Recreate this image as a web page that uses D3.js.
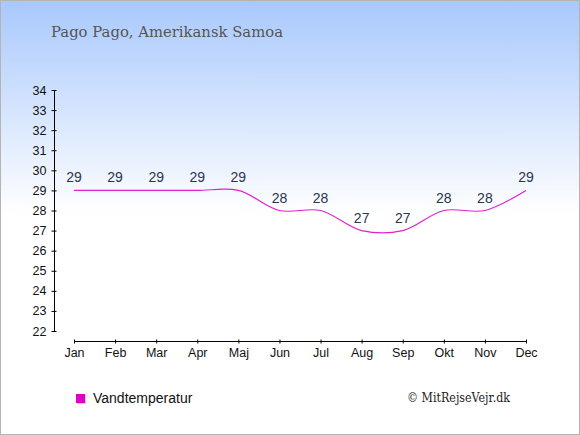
<!DOCTYPE html>
<html><head><meta charset="utf-8">
<script src="https://cdn.jsdelivr.net/npm/d3@7"></script>
<style>html,body{margin:0;padding:0;background:#fff}svg{display:block}</style>
</head><body>
<script>
const months = ["Jan","Feb","Mar","Apr","Maj","Jun","Jul","Aug","Sep","Okt","Nov","Dec"];
const waterTemp = [29,29,29,29,29,28,28,27,27,28,28,29];
const yTicks = [22,23,24,25,26,27,28,29,30,31,32,33,34];
const title = "Pago Pago, Amerikansk Samoa";
const legendLabel = "Vandtemperatur";
const credit = "© MitRejseVejr.dk";

const W = 580, H = 435;
const svg = d3.select("body").append("svg").attr("width", W).attr("height", H);
const defs = svg.append("defs");
const grad = defs.append("linearGradient").attr("id","bg")
  .attr("gradientUnits","userSpaceOnUse").attr("x1",0).attr("y1",0).attr("x2",0).attr("y2",215);
grad.append("stop").attr("offset",0).attr("stop-color","#a8c8fc");
grad.append("stop").attr("offset",1).attr("stop-color","#ffffff");
svg.append("rect").attr("x",0).attr("y",0).attr("width",W).attr("height",H).attr("fill","url(#bg)");
svg.append("rect").attr("x",0.5).attr("y",0.5).attr("width",W-1).attr("height",H-1)
  .attr("fill","none").attr("stroke","#b4b4b4").attr("stroke-width",1);

svg.append("text").attr("x",51).attr("y",37).text(title)
  .attr("font-family","'DejaVu Serif', Georgia, serif").attr("font-size",15.5).attr("fill","#555")
  .attr("textLength",232).attr("lengthAdjust","spacingAndGlyphs");

const x = d3.scalePoint().domain(months).range([74,526]);
const y = d3.scaleLinear().domain([22,34]).range([331,90]);

// y axis
const yAx = svg.append("g").attr("transform","translate(54.5,0)");
yAx.call(d3.axisLeft(y).tickValues(yTicks).tickSizeOuter(0).tickSizeInner(3).tickPadding(5).tickFormat(d3.format("d")));
yAx.selectAll(".tick line").attr("x2",2).attr("x1",-3);
yAx.select(".domain").attr("d","M0,90V331");
yAx.selectAll("text").attr("font-family","'Liberation Sans', Arial, sans-serif").attr("font-size",12.5).attr("fill","#111");
yAx.selectAll("line,path").attr("stroke","#000");

// x axis
const xAx = svg.append("g").attr("transform","translate(0,341.5)");
xAx.call(d3.axisBottom(x).tickSizeOuter(0).tickSizeInner(2).tickPadding(5));
xAx.selectAll(".tick line").attr("y1",-2).attr("y2",2);
xAx.select(".domain").attr("d","M74,0H526");
xAx.selectAll("text").attr("font-family","'Liberation Sans', Arial, sans-serif").attr("font-size",12.5).attr("fill","#111");
xAx.selectAll("line,path").attr("stroke","#000");

// line
const line = d3.line().x((d,i)=>x(months[i])).y(d=>y(d)).curve(d3.curveCatmullRom.alpha(0.5));
svg.append("path").datum(waterTemp).attr("d",line).attr("fill","none").attr("stroke","#e020d0").attr("stroke-width",1.2);

// value labels
svg.append("g").selectAll("text").data(waterTemp).join("text")
  .attr("x",(d,i)=>x(months[i])).attr("y",d=>y(d)-8)
  .attr("text-anchor","middle").text(d=>d)
  .attr("font-family","'Liberation Sans', Arial, sans-serif").attr("font-size",14).attr("fill","#2a3550");

// legend
svg.append("rect").attr("x",77).attr("y",395).attr("width",9).attr("height",9).attr("fill","#cfcfcf");
svg.append("rect").attr("x",76).attr("y",394).attr("width",9).attr("height",9).attr("fill","#dd00cc");
svg.append("text").attr("x",93).attr("y",403).text(legendLabel)
  .attr("font-family","'Liberation Sans', Arial, sans-serif").attr("font-size",14).attr("fill","#111");
svg.append("text").attr("x",510).attr("y",402).attr("text-anchor","end").text(credit)
  .attr("font-family","'DejaVu Serif', Georgia, serif").attr("font-size",12.5).attr("fill","#222")
  .attr("textLength",103).attr("lengthAdjust","spacingAndGlyphs");
</script>
</body></html>
